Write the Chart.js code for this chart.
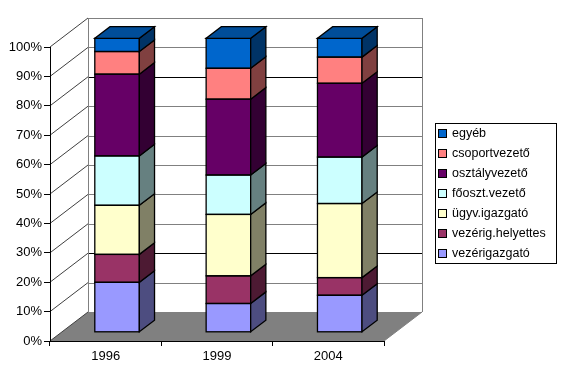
<!DOCTYPE html>
<html>
<head>
<meta charset="utf-8">
<script src="https://cdn.jsdelivr.net/npm/chart.js@4"></script>
<style>
  html, body { margin: 0; padding: 0; background: #fff; }
</style>
</head>
<body>
<canvas id="chart" width="562" height="369"></canvas>
<script>
// Categories and tick labels
const years = ['1996', '1999', '2004'];
const yTickLabels = ['0%', '10%', '20%', '30%', '40%', '50%', '60%', '70%', '80%', '90%', '100%'];

// Share of each position (percent)
const vezerigazgato = [17.0, 9.8, 12.6];
const vezerigHelyettes = [9.5, 9.4, 6.0];
const ugyvIgazgato = [16.7, 20.9, 25.2];
const fooszt = [16.8, 13.4, 15.8];
const osztalyvezeto = [27.8, 25.8, 25.1];
const csoportvezeto = [7.7, 10.5, 8.9];
const egyeb = [4.5, 10.2, 6.4];

const seriesNames = ['vezérigazgató', 'vezérig.helyettes', 'ügyv.igazgató', 'főoszt.vezető', 'osztályvezető', 'csoportvezető', 'egyéb'];
const seriesValues = [vezerigazgato, vezerigHelyettes, ugyvIgazgato, fooszt, osztalyvezeto, csoportvezeto, egyeb];
const seriesColors = ['#9999FF', '#993366', '#FFFFCC', '#CCFFFF', '#660066', '#FF8080', '#0066CC'];

// 3D depth of the plot box, and where the bars sit inside it
const DX = 38, DY = -29;
const BAR_FRONT = 0.3, BAR_BACK = 0.7;
const FONT = 'Liberation Sans, Arial, sans-serif';

function shade(hex, f) {
  const n = parseInt(hex.slice(1), 16);
  const r = Math.round(((n >> 16) & 255) * f);
  const g = Math.round(((n >> 8) & 255) * f);
  const b = Math.round((n & 255) * f);
  return `rgb(${r},${g},${b})`;
}

// walls, floor and grid drawn behind everything
const frame3d = {
  id: 'frame3d',
  beforeDraw(chart) {
    const ctx = chart.ctx, a = chart.chartArea, ys = chart.scales.y;
    ctx.save();
    ctx.fillStyle = '#fff';
    ctx.fillRect(0, 0, chart.width, chart.height);

    // floor
    ctx.fillStyle = '#808080';
    ctx.beginPath();
    ctx.moveTo(a.left, a.bottom);
    ctx.lineTo(a.right, a.bottom);
    ctx.lineTo(a.right + DX, a.bottom + DY);
    ctx.lineTo(a.left + DX, a.bottom + DY);
    ctx.closePath();
    ctx.fill();

    ctx.lineWidth = 1;
    ys.ticks.forEach((t, i) => {
      const py = ys.getPixelForValue(t.value);
      const by = Math.round(py + DY) + 0.5;
      // back wall line
      ctx.strokeStyle = (i === 2 || i === 8) ? '#000' : '#808080';
      ctx.beginPath();
      ctx.moveTo(a.left + DX, by);
      ctx.lineTo(a.right + DX, by);
      ctx.stroke();
      // side wall diagonal
      ctx.strokeStyle = '#404040';
      ctx.beginPath();
      ctx.moveTo(a.left, py);
      ctx.lineTo(a.left + DX, py + DY);
      ctx.stroke();
    });

    ctx.strokeStyle = '#808080';
    ctx.beginPath();
    ctx.moveTo(a.left + DX + 0.5, a.top + DY);
    ctx.lineTo(a.left + DX + 0.5, a.bottom + DY);
    ctx.moveTo(a.right + DX + 0.5, a.top + DY);
    ctx.lineTo(a.right + DX + 0.5, a.bottom + DY);
    ctx.moveTo(a.right, a.bottom);
    ctx.lineTo(a.right + DX, a.bottom + DY);
    ctx.stroke();
    ctx.restore();
  }
};

// push the bars into the box and give them side and top faces
const bars3d = {
  id: 'bars3d',
  beforeDatasetsDraw(chart) {
    chart.ctx.save();
    chart.ctx.translate(BAR_FRONT * DX, BAR_FRONT * DY);
  },
  afterDatasetsDraw(chart) {
    const ctx = chart.ctx;
    const bdx = (BAR_BACK - BAR_FRONT) * DX, bdy = (BAR_BACK - BAR_FRONT) * DY;
    const n = chart.data.datasets.length;
    ctx.lineWidth = 1.3;
    ctx.strokeStyle = '#000';
    ctx.lineJoin = 'miter';
    chart.data.datasets.forEach((ds, di) => {
      const meta = chart.getDatasetMeta(di);
      meta.data.forEach(el => {
        const p = el.getProps(['x', 'y', 'base', 'width'], true);
        const left = p.x - p.width / 2, right = p.x + p.width / 2;
        const top = Math.min(p.y, p.base), bottom = Math.max(p.y, p.base);
        // front outline
        ctx.strokeRect(left, top, right - left, bottom - top);
        ctx.fillStyle = shade(ds.backgroundColor, 0.5);
        ctx.beginPath();
        ctx.moveTo(right, top);
        ctx.lineTo(right + bdx, top + bdy);
        ctx.lineTo(right + bdx, bottom + bdy);
        ctx.lineTo(right, bottom);
        ctx.closePath();
        ctx.fill();
        ctx.stroke();
        if (di === n - 1) {
          ctx.fillStyle = shade(ds.backgroundColor, 0.75);
          ctx.beginPath();
          ctx.moveTo(left, top);
          ctx.lineTo(left + bdx, top + bdy);
          ctx.lineTo(right + bdx, top + bdy);
          ctx.lineTo(right, top);
          ctx.closePath();
          ctx.fill();
          ctx.stroke();
        }
      });
    });
    ctx.restore();
  }
};

// boxed legend on the right, top series first
const boxLegend = {
  id: 'boxLegend',
  afterDraw(chart) {
    const ctx = chart.ctx;
    const ds = chart.data.datasets;
    ctx.save();
    ctx.strokeStyle = '#000';
    ctx.lineWidth = 1;
    ctx.strokeRect(435.5, 123.5, 121, 140);
    ctx.font = '12.5px ' + FONT;
    ctx.textBaseline = 'middle';
    for (let k = 0; k < ds.length; k++) {
      const d = ds[ds.length - 1 - k];
      const yc = 134 + k * 20;
      ctx.fillStyle = d.backgroundColor;
      ctx.fillRect(438.5, yc - 4.5, 8, 8);
      ctx.strokeRect(438.5, yc - 4.5, 8, 8);
      ctx.fillStyle = '#000';
      ctx.fillText(d.label, 452, yc);
    }
    ctx.restore();
  }
};

new Chart(document.getElementById('chart'), {
  type: 'bar',
  data: {
    labels: years,
    datasets: seriesNames.map((name, i) => ({
      label: name,
      data: seriesValues[i],
      backgroundColor: seriesColors[i],
      borderColor: '#000',
      borderWidth: 0,
      barPercentage: 0.4,
      categoryPercentage: 1,
      clip: false
    }))
  },
  options: {
    responsive: false,
    animation: false,
    devicePixelRatio: 1,
    events: [],
    layout: { padding: { top: 47, right: 178, bottom: 0, left: 0 } },
    plugins: {
      legend: { display: false },
      tooltip: { enabled: false }
    },
    scales: {
      x: {
        stacked: true,
        grid: { offset: true, drawOnChartArea: false, drawTicks: true, tickLength: 5, color: '#000' },
        border: { display: true, color: '#000', width: 1 },
        ticks: { color: '#000', font: { family: FONT, size: 13 }, padding: 3, maxRotation: 0 },
        afterFit: s => { s.height = 28; }
      },
      y: {
        stacked: true,
        min: 0,
        max: 100,
        grid: { drawOnChartArea: false, drawTicks: true, tickLength: 6, color: '#000' },
        border: { display: true, color: '#000', width: 1 },
        ticks: {
          stepSize: 10,
          color: '#000',
          font: { family: FONT, size: 13 },
          padding: 2,
          callback: (v, i) => yTickLabels[i]
        },
        afterFit: s => { s.width = 50; }
      }
    }
  },
  plugins: [frame3d, bars3d, boxLegend]
});
</script>
</body>
</html>
